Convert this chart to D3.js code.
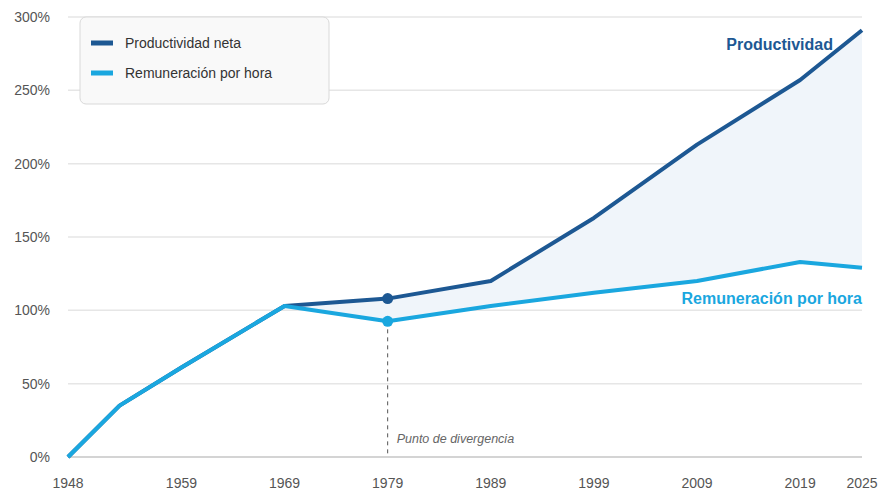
<!DOCTYPE html>
<html><head><meta charset="utf-8">
<script src="https://cdn.jsdelivr.net/npm/d3@7"></script>
<style>body{margin:0;background:#fff}svg{display:block;font-family:"Liberation Sans",Arial,sans-serif}</style>
</head><body><svg id="c" width="893" height="493"></svg>
<script>
const years = [1948, 1953, 1959, 1969, 1979, 1989, 1999, 2009, 2019, 2025];
const productividad = [0, 35, 61, 103, 108, 120, 163, 213, 257, 291];
const remuneracion = [0, 35, 61, 103, 92.5, 103, 112, 120, 133, 129];
const xTicks = [1948, 1959, 1969, 1979, 1989, 1999, 2009, 2019, 2025];
const yTicks = [0, 50, 100, 150, 200, 250, 300];
const divergenceYear = 1979;

const svg = d3.select("#c");
const x = d3.scaleLinear().domain([1948, 2025]).range([68, 862]);
const y = d3.scaleLinear().domain([0, 300]).range([457, 17]);
const dark = "#1d5893", light = "#1aa7df";

const data = years.map((yr, i) => ({yr, p: productividad[i], r: remuneracion[i]}));

// grid
svg.append("g").selectAll("line").data(yTicks).join("line")
  .attr("x1", x(1948)).attr("x2", x(2025))
  .attr("y1", d => y(d)).attr("y2", d => y(d))
  .attr("stroke", d => d === 0 ? "#d4d4d4" : "#e6e6e6").attr("stroke-width", d => d === 0 ? 2 : 1.5);

// y labels
svg.append("g").selectAll("text").data(yTicks).join("text")
  .attr("x", 50).attr("y", d => y(d) + 5).attr("text-anchor", "end")
  .attr("font-size", 14).attr("fill", "#555").text(d => d + "%");

// x labels
svg.append("g").selectAll("text").data(xTicks).join("text")
  .attr("x", d => x(d)).attr("y", 488).attr("text-anchor", "middle")
  .attr("font-size", 14).attr("fill", "#555").text(d => d);

// gap area
const gap = data.filter(d => d.yr >= 1969);
svg.append("path").datum(gap)
  .attr("d", d3.area().x(d => x(d.yr)).y0(d => y(d.r)).y1(d => y(d.p)))
  .attr("fill", "#f0f5fa");

// divergence dashed line
const dv = data.find(d => d.yr === divergenceYear);
svg.append("line").attr("x1", x(divergenceYear)).attr("x2", x(divergenceYear))
  .attr("y1", y(dv.r)).attr("y2", y(0))
  .attr("stroke", "#555").attr("stroke-width", 1).attr("stroke-dasharray", "4,4");
svg.append("text").attr("x", x(divergenceYear) + 9).attr("y", 443)
  .attr("font-size", 12.5).attr("font-style", "italic").attr("fill", "#666").text("Punto de divergencia");

const line = key => d3.line().x(d => x(d.yr)).y(d => y(d[key]));
svg.append("path").datum(data).attr("d", line("p")).attr("fill", "none")
  .attr("stroke", dark).attr("stroke-width", 4).attr("stroke-linejoin", "round");
svg.append("path").datum(data).attr("d", line("r")).attr("fill", "none")
  .attr("stroke", light).attr("stroke-width", 4).attr("stroke-linejoin", "round");

svg.append("circle").attr("cx", x(dv.yr)).attr("cy", y(dv.p)).attr("r", 5.5).attr("fill", dark);
svg.append("circle").attr("cx", x(dv.yr)).attr("cy", y(dv.r)).attr("r", 5.5).attr("fill", light);

// end labels
svg.append("text").attr("x", 833).attr("y", 50).attr("text-anchor", "end")
  .attr("font-size", 16).attr("font-weight", "bold").attr("fill", dark).text("Productividad");
svg.append("text").attr("x", 862).attr("y", 304).attr("text-anchor", "end")
  .attr("font-size", 16).attr("font-weight", "bold").attr("fill", light).text("Remuneración por hora");

// legend
const lg = svg.append("g");
lg.append("rect").attr("x", 80).attr("y", 17).attr("width", 249).attr("height", 87).attr("rx", 6)
  .attr("fill", "#f9f9f9").attr("stroke", "#d9d9d9");
const items = [{t: "Productividad neta", c: dark}, {t: "Remuneración por hora", c: light}];
items.forEach((it, i) => {
  const yy = 43 + i * 30;
  lg.append("line").attr("x1", 91).attr("x2", 113).attr("y1", yy).attr("y2", yy)
    .attr("stroke", it.c).attr("stroke-width", 5);
  lg.append("text").attr("x", 125).attr("y", yy + 5).attr("font-size", 14).attr("fill", "#333").text(it.t);
});
</script></body></html>
